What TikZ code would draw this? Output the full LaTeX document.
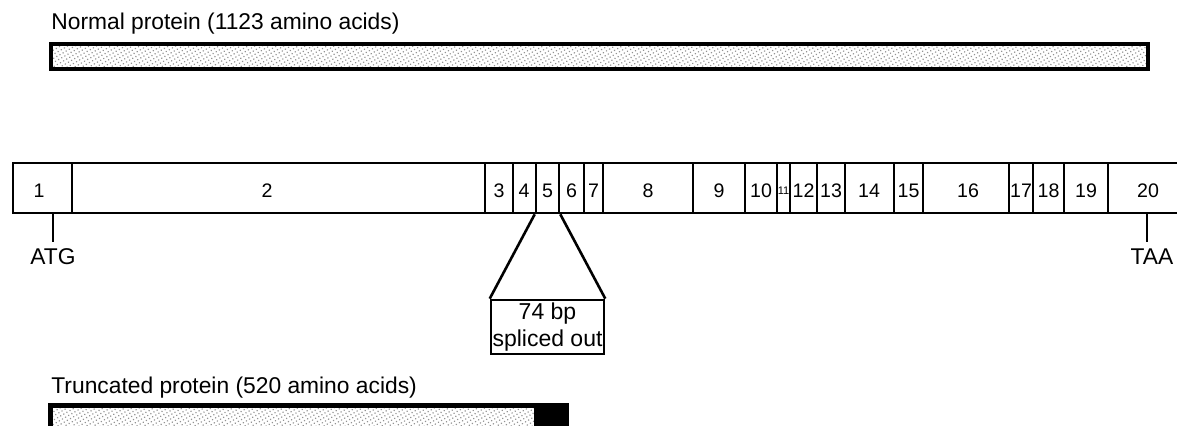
\documentclass[tikz,border=0pt]{standalone}
\usepackage{fontspec}
\setmainfont{Liberation Sans}
\usetikzlibrary{fit,patterns.meta}
\begin{document}
\begin{tikzpicture}[x=0.5pt,y=-0.5pt,
  lbl/.style={font=\fontsize{11.4}{13.5}\selectfont, inner sep=0pt},
  exon/.style={draw, line width=1.3pt, inner sep=0pt},
  exonnum/.style={font=\fontsize{9.8}{11}\selectfont, inner sep=0pt},
  exonsmall/.style={font=\fontsize{5.5}{6.5}\selectfont, inner sep=0pt},
  protein/.style={draw, line width=1.6pt, inner sep=0pt, fill=gray!18,
    pattern={Dots[distance=1.8pt,radius=0.42pt,angle=30]}, pattern color=gray!85},
  tick/.style={line width=1.3pt}
]
\useasboundingbox (0,0) rectangle (1177,426);
\clip (0,0) rectangle (1177,426);

% normal protein
\node[lbl, anchor=base west] (normallbl) at (51,30) {Normal protein (1123 amino acids)};
\node[protein, fit={(51,44) (1148,69)}] (normal) {};

% gene exons
\foreach \a/\b/\n/\t/\s in {13/72/1/39/exonnum, 72/485/2/267/exonnum, 485/513/3/499/exonnum,
  513/536/4/524/exonnum, 536/559/5/547.5/exonnum, 559/584/6/571.5/exonnum,
  584/603/7/593.5/exonnum, 603/693/8/648/exonnum, 693/745/9/719/exonnum,
  745/777/10/761/exonnum, 777/790/11/783.5/exonsmall, 790/817/12/803.5/exonnum,
  817/845/13/831/exonnum, 845/894/14/869/exonnum, 894/923/15/908.5/exonnum,
  923/1009/16/968/exonnum, 1009/1033/17/1021/exonnum, 1033/1064/18/1048.5/exonnum,
  1064/1108/19/1086/exonnum, 1108/1200/20/1148/exonnum}{
  \node[exon, fit={(\a,163) (\b,213)}] (e\n) {};
  \node[\s] (l\n) at (\t,191) {\n};
}

% start / stop codons
\node[lbl, anchor=north, inner ysep=3pt] (atg) at (53,242) {ATG};
\draw[tick] (atg.north) -- (atg.north |- e1.south);
\node[lbl, anchor=north, inner ysep=3pt] (taa) at (1152,242) {TAA};
\coordinate (taatop) at (1147,213);
\draw[tick] (taatop) -- (taatop |- taa.north);

% spliced-out exon 5
\node[draw, line width=1.3pt, minimum width=56.5pt, minimum height=27pt, inner sep=0pt,
  align=center, font=\fontsize{11.5}{13.5}\selectfont] (splice) at (547.5,327) {74 bp\\spliced out};
\draw[tick] (e5.south west) -- (splice.north west);
\draw[tick] (e5.south east) -- (splice.north east);

% truncated protein
\node[lbl, anchor=base west] (trunclbl) at (51,394) {Truncated protein (520 amino acids)};
\node[protein, fit={(51,406) (566,450)}] (trunc) {};
\node[fill=black, inner sep=0pt, fit={(534,406) (566,450)}] (tail) {};
\draw[line width=1.6pt] (trunc.north west) rectangle (trunc.south east);
\end{tikzpicture}
\end{document}
